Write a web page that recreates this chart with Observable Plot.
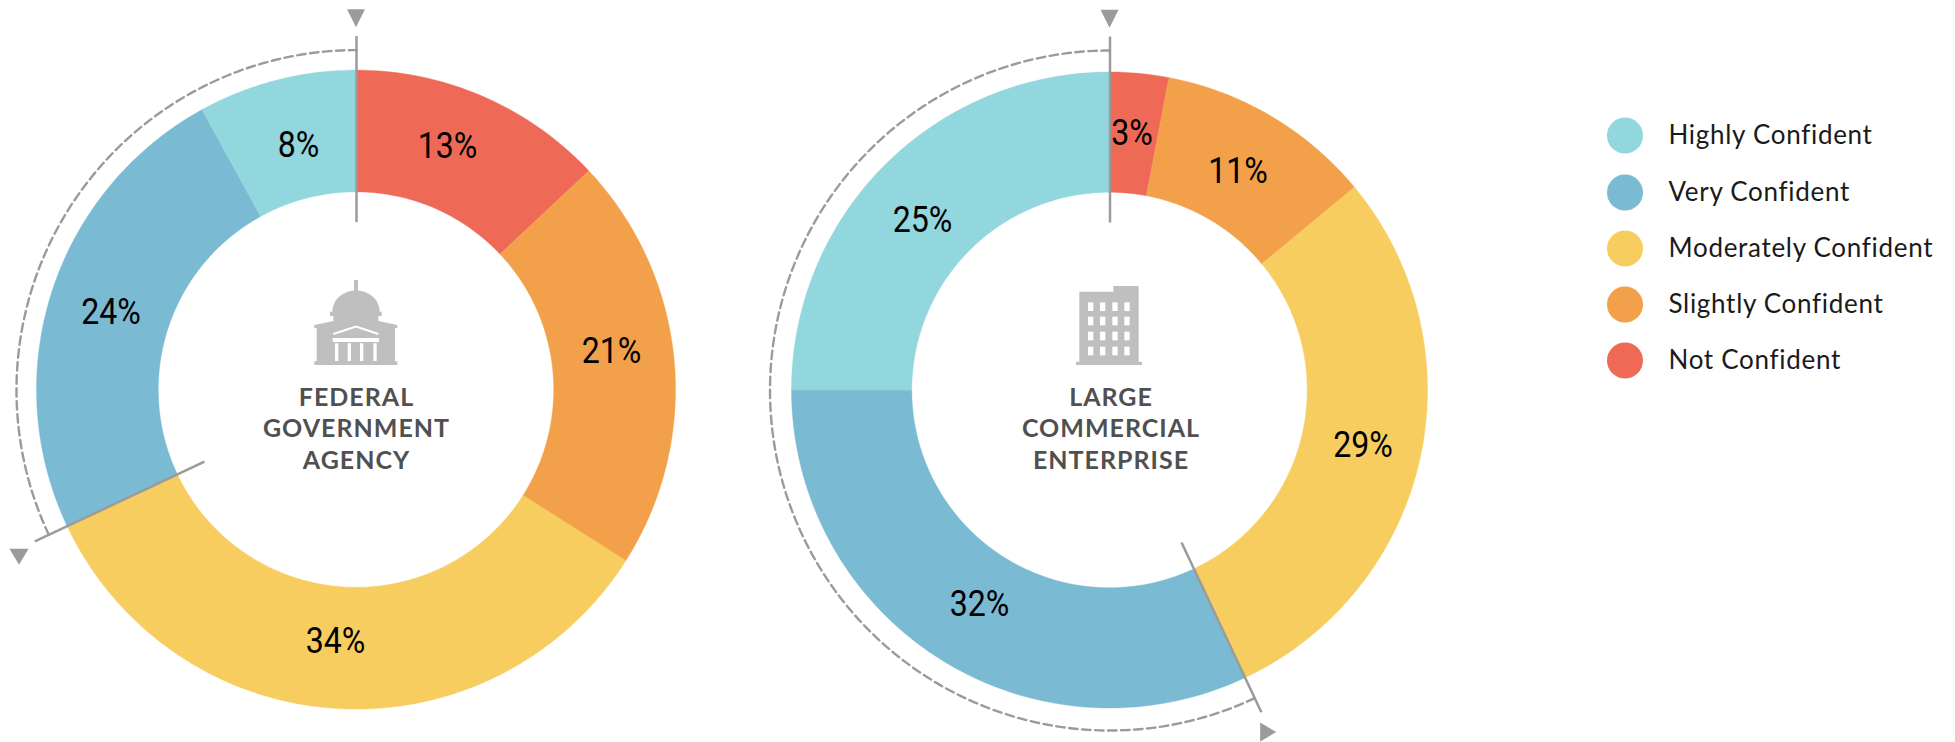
<!DOCTYPE html>
<html>
<head>
<meta charset="utf-8">
<title>Confidence by organisation type</title>
<script src="https://cdn.jsdelivr.net/npm/d3@7"></script>
<script src="https://cdn.jsdelivr.net/npm/@observablehq/plot@0.6"></script>
<style>
  html, body { margin: 0; padding: 0; background: #fff; }
  svg { display: block; }
</style>
</head>
<body>
<div id="chart"></div>
<script>
// Confidence levels, in the clockwise order they sit on each ring (from 12 o'clock).
const ringOrder = ["Not Confident", "Slightly Confident", "Moderately Confident", "Very Confident", "Highly Confident"];
const legendOrder = ["Highly Confident", "Very Confident", "Moderately Confident", "Slightly Confident", "Not Confident"];
const legendColors = ["#92d6de", "#7abad3", "#f7cd60", "#f2a04a", "#ef6957"];

// Share of respondents, percent, aligned with ringOrder.
const federalValues = [13, 21, 34, 24, 8];
const commercialValues = [3, 11, 29, 32, 25];

const federalTitle = ["FEDERAL", "GOVERNMENT", "AGENCY"];
const commercialTitle = ["LARGE", "COMMERCIAL", "ENTERPRISE"];

// Ring geometry and hand-placed label anchors, in page pixels.
const innerR = 197.7, dashR = 340;
const federalRing = {cx: 356, cy: 389.6, outerR: 319.5, values: federalValues, title: federalTitle,
  titleX: 356, sideShare: 67.7, labelX: [447, 611, 335, 110.5, 298], labelY: [146, 351, 641, 312, 145]};
const commercialRing = {cx: 1109.5, cy: 390, outerR: 318, values: commercialValues, title: commercialTitle,
  titleX: 1110.5, sideShare: 43.1, labelX: [1131.5, 1237.5, 1362.5, 979, 922], labelY: [133, 171, 445, 604, 220]};
const rings = [federalRing, commercialRing];

// The bracket spans the last two levels on the ring, back from 12 o'clock.
const bracketCount = 2;

const toPoint = (ring, share, r) => {
  const a = share / 100 * 2 * Math.PI;
  return [ring.cx + r * Math.sin(a), ring.cy - r * Math.cos(a)];
};

const slices = [], labels = [], ticks = [], arcs = [], topArrows = [], sideArrows = [], titles = [];

rings.forEach((ring, ringIndex) => {
  let start = 0;
  ring.values.forEach((v, i) => {
    const end = start + v;
    const steps = Math.max(2, Math.ceil(v * 3));
    for (let s = 0; s <= steps; s++) {
      const share = start + (end - start) * s / steps;
      const [ox, oy] = toPoint(ring, share, ring.outerR);
      const [ix, iy] = toPoint(ring, share, innerR);
      slices.push({key: ringIndex + ringOrder[i], level: ringOrder[i], ox, oy, ix, iy});
    }
    labels.push({x: ring.labelX[i], y: ring.labelY[i], text: v + "%"});
    start = end;
  });

  const splitShare = 100 - d3.sum(ring.values.slice(-bracketCount));
  [[0, 354], [splitShare, 355.5]].forEach(([share, reach]) => {
    const [x1, y1] = toPoint(ring, share, 168);
    const [x2, y2] = toPoint(ring, share, reach);
    ticks.push({x1, y1, x2, y2});
  });
  const [tx, ty] = toPoint(ring, 0, 371.8);
  topArrows.push({x: tx - 0.5, y: ty});
  const [sx, sy] = toPoint(ring, ring.sideShare, 376.4);
  sideArrows.push({x: sx, y: sy, rotate: ringIndex === 1 ? 90 : 180});

  for (let share = splitShare; share <= 100; share += 0.25) {
    const [x, y] = toPoint(ring, share, dashR);
    arcs.push({ring: ringIndex, x, y});
  }

  ring.title.forEach((line, k) => {
    titles.push({x: ring.titleX, y: 397 + k * 31.8, line});
  });
});

const legendY = [135, 192, 248, 304, 360];
const legend = legendOrder.map((level, i) => ({level, y: legendY[i]}));

// Pointer glyphs: an upward triangle sized by its bounding box around the origin.
const pointer = (baseRatio, heightRatio) => ({
  draw(context, size) {
    const s = Math.sqrt(size);
    const w = s * baseRatio / 2, h = s * heightRatio / 2;
    context.moveTo(0, -h);
    context.lineTo(w, h);
    context.lineTo(-w, h);
    context.closePath();
  }
});

// Grey pictograms above the ring titles, drawn in a 180-wide local grid at 1/3 scale.
const grey = "#bfbfbf";
function capitol(g) {
  g.append("path").attr("fill", grey).attr("d",
    "M222 60h12v36h-12zM157 155A71 64 0 0 1 299 155h6v13h-10v15l57 12v9h-7v100h7v11H103v-11h7V204h-7v-9l57-12v-15h-10v-13z");
  g.append("path").attr("fill", "none").attr("stroke", "#fff").attr("stroke-width", 6)
    .attr("d", "M160 222l68-22 67 22");
  g.append("path").attr("fill", "#fff").attr("d",
    "M158 234h139v12H158zM165 250h10v53h-10zM203 250h10v53h-10zM240 250h10v53h-10zM280 250h10v53h-10z");
}
function tower(g) {
  g.append("path").attr("fill", grey).attr("d", "M118 305V95h102V78h76v227h10v10H108v-10z");
  const cols = [144, 180, 217, 253], rows = [127, 170, 215, 260];
  for (const c of cols) for (const r of rows) {
    g.append("rect").attr("fill", "#fff").attr("x", c).attr("y", r).attr("width", 16).attr("height", 26);
  }
}
const icon = (draw, left, top) => (index, {x, y}) => {
  const g = d3.create("svg:g")
    .attr("transform", `translate(${x(left)},${y(top)}) scale(${1 / 3})`);
  draw(g);
  return g.node();
};

const bodyFont = "Lato, 'Noto Sans', sans-serif";
const chart = Plot.plot({
  width: 1955,
  height: 742,
  margin: 0,
  x: {axis: null, domain: [0, 1955], range: [0, 1955]},
  y: {axis: null, domain: [0, 742], range: [0, 742]},
  color: {domain: legendOrder, range: legendColors},
  style: {background: "#fff"},
  marks: [
    Plot.area(slices, {x1: "ox", y1: "oy", x2: "ix", y2: "iy", z: "key", fill: "level", stroke: "level", strokeWidth: 0.4}),
    Plot.line(arcs, {x: "x", y: "y", z: "ring", stroke: "#9b9b9b", strokeWidth: 2.4, strokeDasharray: "8.5 4.5", fill: "none"}),
    Plot.link(ticks, {x1: "x1", y1: "y1", x2: "x2", y2: "y2", stroke: "#9b9b9b", strokeWidth: 2.5}),
    Plot.dot(topArrows, {x: "x", y: "y", symbol: pointer(1, 1), r: 10.15, fill: "#9b9b9b", stroke: "none", rotate: 180}),
    Plot.dot(sideArrows, {x: "x", y: "y", symbol: pointer(1.2, 1), r: 9, fill: "#9b9b9b", stroke: "none", rotate: "rotate"}),
    Plot.text(labels, {x: "x", y: "y", text: "text", fill: "#000", fontSize: 36.5, className: "pct",
      fontFamily: "Roboto, sans-serif", textAnchor: "middle"}),
    icon(capitol, 280, 260),
    icon(tower, 1040, 260),
    Plot.text(titles, {x: "x", y: "y", text: "line", fill: "#505050", fontSize: 25, fontWeight: 700,
      fontFamily: bodyFont, textAnchor: "middle", className: "ring-title"}),
    Plot.dot(legend, {x: () => 1624.5, y: "y", r: 18, fill: "level", stroke: "none"}),
    Plot.text(legend, {x: () => 1668, y: "y", text: "level", fill: "#1a1a1a", fontSize: 26, fontWeight: 400,
      fontFamily: bodyFont, textAnchor: "start", className: "legend-label"})
  ]
});
document.getElementById("chart").append(chart);

// Tracking for the sans labels, and a condensed cut of the percentages.
d3.select(chart).selectAll(".ring-title text").style("letter-spacing", "1px");
d3.select(chart).selectAll(".legend-label text").style("letter-spacing", "0.7px");
d3.select(chart).selectAll(".pct text").each(function () {
  this.setAttribute("textLength", this.getComputedTextLength() * 0.88);
  this.setAttribute("lengthAdjust", "spacingAndGlyphs");
});
</script>
</body>
</html>
